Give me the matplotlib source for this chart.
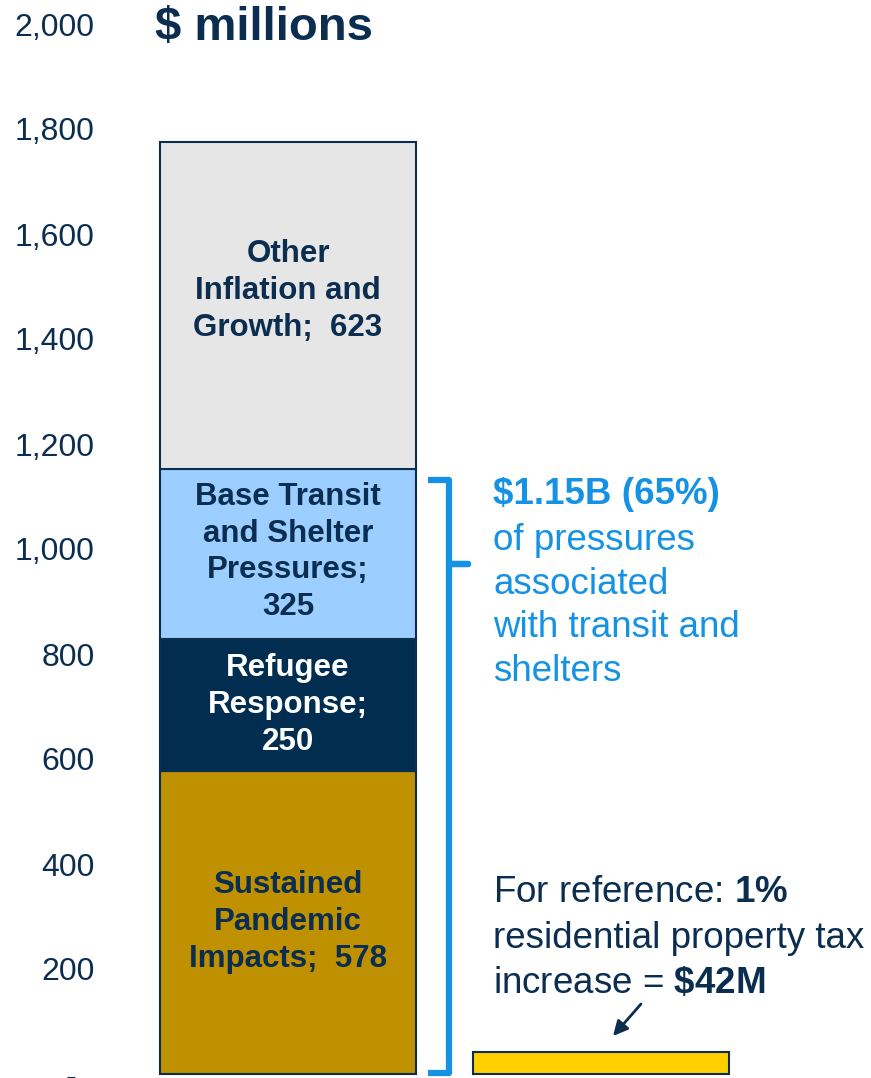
import matplotlib
matplotlib.use('Agg')
import matplotlib.pyplot as plt
from matplotlib.ticker import FixedLocator, FuncFormatter

plt.rcParams['font.family'] = ['Liberation Sans', 'DejaVu Sans']
plt.rcParams['mathtext.fontset'] = 'custom'
plt.rcParams['mathtext.rm'] = 'Liberation Sans'
plt.rcParams['mathtext.bf'] = 'Liberation Sans:bold'

# ---- data ----
segment_names = ['Sustained\nPandemic\nImpacts;', 'Refugee\nResponse;',
                 'Base Transit\nand Shelter\nPressures;', 'Other\nInflation and\nGrowth;']
segment_values = [578, 250, 325, 623]
segment_seps = ['  ', '\n', '\n', '  ']
segment_colors = ['#BF9000', '#002D50', '#9CCFFF', '#E6E6E6']
segment_text_colors = ['#0B2E50', '#FFFFFF', '#0B2E50', '#0B2E50']
reference_value = 42
yticks = [0, 200, 400, 600, 800, 1000, 1200, 1400, 1600, 1800, 2000]

NAVY = '#0B2E50'
BLUE = '#1592E3'

W, H = 871, 1078
fig = plt.figure(figsize=(W / 100, H / 100), dpi=100)
left_px = 100
ax = fig.add_axes([left_px / W, 0, 1 - left_px / W, 1])

# pixel mapping helpers (for layout)
px_per_x = 313.0
x0_px = 288.0
px_per_y = 0.525
y0_px = 1074.0
ax.set_xlim((left_px - x0_px) / px_per_x, (W - x0_px) / px_per_x)
ax.set_ylim((y0_px - H) / px_per_y, y0_px / px_per_y)

bar_w = 256 / px_per_x
bottom = 0
for name, val, sep, col, tcol in zip(segment_names, segment_values, segment_seps,
                                      segment_colors, segment_text_colors):
    ax.bar(0, val, width=bar_w, bottom=bottom, color=col, edgecolor=NAVY,
           linewidth=1.5, zorder=2)
    yc = bottom + val / 2
    dy = 14 if bottom > 1000 else (2 if bottom > 700 else 0)
    ax.annotate(f'{name}{sep}{val}', xy=(0, yc), xytext=(0, dy),
                textcoords='offset pixels', ha='center', va='center',
                fontsize=22.5, fontweight='bold', color=tcol,
                linespacing=1.3, zorder=3)
    bottom += val

# reference bar
ax.bar(1, reference_value, width=bar_w, color='#FFCF00', edgecolor=NAVY,
       linewidth=1.5, zorder=2)

# bracket
sub_total = sum(segment_values[:3])
bx_left = (428 - x0_px) / px_per_x
bx_mid = (449 - x0_px) / px_per_x
bx_right = (468 - x0_px) / px_per_x
top_y = sub_total - 22
bot_y = 2
nub_y = 971
ax.plot([bx_left, bx_mid, bx_mid, bx_right, bx_mid, bx_mid, bx_left],
        [top_y, top_y, nub_y, nub_y, nub_y, bot_y, bot_y],
        color=BLUE, lw=4.5, solid_joinstyle='round', solid_capstyle='butt',
        clip_on=False, zorder=3)

# right annotation
tx = (493 - x0_px) / px_per_x
ax.text(tx, (y0_px - 494) / px_per_y, '$1.15B (65%)', fontsize=26.5,
        fontweight='bold', color=BLUE, ha='left', va='center')
ax.text(tx, (y0_px - 606) / px_per_y,
        'of pressures\nassociated\nwith transit and\nshelters',
        fontsize=26.5, color=BLUE, ha='left', va='center', linespacing=1.33)

ax.text(tx, (y0_px - 892) / px_per_y, r'For reference: $\mathbf{1\%}$',
        fontsize=26.5, color=NAVY, ha='left', va='center')
ax.text(tx, (y0_px - 938) / px_per_y, 'residential property tax',
        fontsize=26.5, color=NAVY, ha='left', va='center')
ax.text(tx, (y0_px - 984) / px_per_y, r'increase = $\mathbf{\$42M}$',
        fontsize=26.5, color=NAVY, ha='left', va='center')

# arrow
ax.annotate('', xy=((613 - x0_px) / px_per_x, (y0_px - 1036) / px_per_y),
            xytext=((641 - x0_px) / px_per_x, (y0_px - 1004) / px_per_y),
            arrowprops=dict(arrowstyle='-|>', color=NAVY, lw=2,
                            mutation_scale=22, shrinkA=0, shrinkB=0))

# title
ax.text((155 - x0_px) / px_per_x, (y0_px - 28) / px_per_y, '$ millions',
        fontsize=34, fontweight='bold', color=NAVY, ha='left', va='center')

# axes styling
for s in ax.spines.values():
    s.set_visible(False)
ax.set_xticks([])
ax.yaxis.set_major_locator(FixedLocator(yticks))
ax.yaxis.set_major_formatter(FuncFormatter(
    lambda v, p: '-  ' if v == 0 else f'{int(v):,}'))
ax.tick_params(axis='y', length=0, pad=4, labelsize=23, labelcolor=NAVY)

fig.savefig('out.png', dpi=100)
